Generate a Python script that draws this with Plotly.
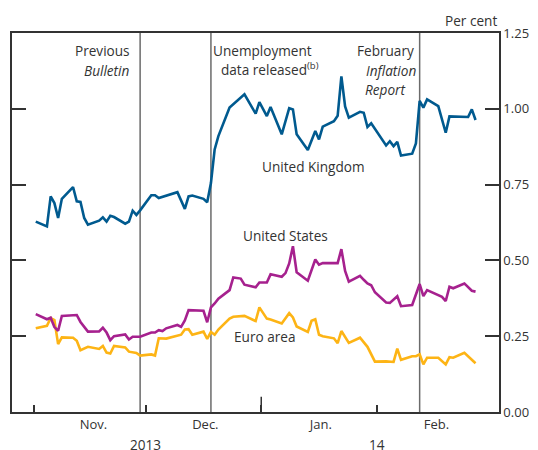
import pandas as pd
import plotly.graph_objects as go

# ---------------- data ----------------
uk_dates = ["2013-11-01","2013-11-04","2013-11-05","2013-11-06","2013-11-07","2013-11-08",
            "2013-11-11","2013-11-12","2013-11-13","2013-11-14","2013-11-15","2013-11-18",
            "2013-11-19","2013-11-20","2013-11-21","2013-11-22","2013-11-25","2013-11-26",
            "2013-11-27","2013-11-28","2013-11-29","2013-12-02","2013-12-03","2013-12-04",
            "2013-12-09","2013-12-11","2013-12-12","2013-12-13","2013-12-16","2013-12-17",
            "2013-12-18","2013-12-19","2013-12-20","2013-12-23","2013-12-27","2013-12-30",
            "2013-12-31","2014-01-02","2014-01-03","2014-01-06","2014-01-08","2014-01-09",
            "2014-01-10","2014-01-13","2014-01-15","2014-01-16","2014-01-17","2014-01-20",
            "2014-01-21","2014-01-22","2014-01-23","2014-01-24","2014-01-27","2014-01-28",
            "2014-01-29","2014-01-30","2014-02-03","2014-02-04","2014-02-05","2014-02-06",
            "2014-02-07","2014-02-10","2014-02-11","2014-02-12","2014-02-13","2014-02-14",
            "2014-02-17","2014-02-19","2014-02-20","2014-02-25","2014-02-26","2014-02-27"]
uk_values = [0.628,0.612,0.711,0.689,0.640,0.703,
             0.742,0.695,0.693,0.640,0.618,0.631,
             0.642,0.628,0.647,0.643,0.621,0.628,
             0.664,0.650,0.665,0.715,0.715,0.706,
             0.725,0.670,0.711,0.714,0.703,0.692,
             0.755,0.866,0.910,1.004,1.048,0.984,
             1.022,0.976,1.006,0.916,1.002,0.998,
             0.916,0.864,0.927,0.899,0.941,0.959,
             0.977,1.107,1.008,0.971,0.990,0.987,
             0.940,0.952,0.879,0.893,0.877,0.891,
             0.846,0.852,0.886,1.026,1.004,1.031,
             1.009,0.921,0.975,0.973,0.998,0.963]

us_dates = ["2013-11-01","2013-11-04","2013-11-05","2013-11-06","2013-11-07","2013-11-08",
            "2013-11-12","2013-11-13","2013-11-15","2013-11-18","2013-11-19","2013-11-20",
            "2013-11-21","2013-11-22","2013-11-25","2013-11-26","2013-11-27","2013-11-29",
            "2013-12-02","2013-12-03","2013-12-04","2013-12-05","2013-12-06","2013-12-09",
            "2013-12-10","2013-12-11","2013-12-12","2013-12-16","2013-12-17","2013-12-18",
            "2013-12-19","2013-12-20","2013-12-23","2013-12-24","2013-12-26","2013-12-27",
            "2013-12-30","2013-12-31","2014-01-02","2014-01-03","2014-01-06","2014-01-07",
            "2014-01-08","2014-01-09","2014-01-10","2014-01-13","2014-01-15","2014-01-16",
            "2014-01-17","2014-01-21","2014-01-22","2014-01-23","2014-01-24","2014-01-27",
            "2014-01-28","2014-01-29","2014-01-30","2014-01-31","2014-02-03","2014-02-04",
            "2014-02-06","2014-02-07","2014-02-10","2014-02-12","2014-02-13","2014-02-14",
            "2014-02-18","2014-02-19","2014-02-20","2014-02-21","2014-02-24","2014-02-26",
            "2014-02-27"]
us_values = [0.323,0.306,0.311,0.280,0.268,0.317,
             0.320,0.297,0.265,0.266,0.278,0.262,
             0.237,0.250,0.256,0.239,0.248,0.248,
             0.262,0.262,0.270,0.267,0.276,0.287,
             0.281,0.302,0.336,0.334,0.296,0.345,
             0.358,0.374,0.402,0.444,0.440,0.420,
             0.411,0.427,0.427,0.454,0.446,0.458,
             0.490,0.547,0.461,0.433,0.503,0.486,
             0.491,0.491,0.537,0.465,0.430,0.449,
             0.436,0.424,0.418,0.395,0.361,0.360,
             0.382,0.349,0.353,0.422,0.382,0.402,
             0.380,0.366,0.413,0.408,0.424,0.400,
             0.397]

ea_dates = ["2013-11-01","2013-11-04","2013-11-05","2013-11-06","2013-11-07","2013-11-08",
            "2013-11-11","2013-11-12","2013-11-13","2013-11-15","2013-11-18","2013-11-19",
            "2013-11-20","2013-11-21","2013-11-22","2013-11-25","2013-11-26","2013-11-28",
            "2013-11-29","2013-12-02","2013-12-03","2013-12-04","2013-12-06","2013-12-10",
            "2013-12-11","2013-12-12","2013-12-13","2013-12-16","2013-12-17","2013-12-18",
            "2013-12-19","2013-12-20","2013-12-23","2013-12-24","2013-12-27","2013-12-30",
            "2013-12-31","2014-01-02","2014-01-03","2014-01-06","2014-01-08","2014-01-09",
            "2014-01-10","2014-01-13","2014-01-14","2014-01-15","2014-01-16","2014-01-17",
            "2014-01-20","2014-01-21","2014-01-22","2014-01-24","2014-01-27","2014-01-29",
            "2014-01-31","2014-02-03","2014-02-05","2014-02-06","2014-02-07","2014-02-10",
            "2014-02-11","2014-02-12","2014-02-13","2014-02-14","2014-02-17","2014-02-19",
            "2014-02-20","2014-02-21","2014-02-24","2014-02-25","2014-02-27"]
ea_values = [0.276,0.284,0.310,0.303,0.224,0.246,
             0.245,0.235,0.204,0.215,0.208,0.218,
             0.196,0.193,0.218,0.213,0.199,0.195,
             0.186,0.190,0.186,0.243,0.242,0.255,
             0.272,0.273,0.255,0.265,0.241,0.264,
             0.255,0.272,0.308,0.314,0.317,0.300,
             0.345,0.308,0.305,0.292,0.326,0.312,
             0.282,0.264,0.301,0.306,0.255,0.250,
             0.243,0.227,0.267,0.228,0.245,0.215,
             0.166,0.167,0.165,0.209,0.172,0.184,
             0.184,0.190,0.157,0.179,0.179,0.157,
             0.181,0.179,0.195,0.183,0.161]

event_dates = ["2013-11-29", "2013-12-18", "2014-02-12"]
month_starts = ["2013-11-01", "2013-12-01", "2014-01-01", "2014-02-01"]
month_label_dates = ["2013-11-17", "2013-12-17", "2014-01-17", "2014-02-17"]
month_labels = ["Nov.", "Dec.", "Jan.", "Feb."]
year_start = "2014-01-01"
y_ticks = [0.0, 0.25, 0.5, 0.75, 1.0, 1.25]

# ---------------- styling ----------------
FONT = "Open Sans"
TXT = "#333333"
UK_C = "#005A8F"
US_C = "#A6218E"
EA_C = "#FDB415"
HALF_DAY = pd.Timedelta(hours=12)

def at_noon(ds):
    return pd.to_datetime(ds) + HALF_DAY

fig = go.Figure()
for d, v, c in [(ea_dates, ea_values, EA_C), (us_dates, us_values, US_C), (uk_dates, uk_values, UK_C)]:
    fig.add_trace(go.Scatter(x=at_noon(d), y=v, mode="lines",
                             line=dict(color=c, width=2.6), showlegend=False,
                             hoverinfo="skip"))

for ed in event_dates:
    fig.add_shape(type="line", xref="x", yref="paper",
                  x0=at_noon([ed])[0], x1=at_noon([ed])[0], y0=0, y1=1,
                  line=dict(color="#6b6b6b", width=1.5), layer="below")

# longer tick at the year boundary
fig.add_shape(type="line", xref="x", yref="paper",
              x0=pd.Timestamp(year_start), x1=pd.Timestamp(year_start), y0=0, y1=0.04,
              line=dict(color="#333333", width=1.5))

# the page body has an 8px default margin, so the figure is sized 8px smaller
fig.update_layout(
    width=530, height=442,
    margin=dict(l=2, r=39, t=25, b=38),
    paper_bgcolor="white", plot_bgcolor="white",
    font=dict(family=FONT, size=13, color=TXT),
    xaxis=dict(type="date",
               range=[pd.Timestamp("2013-10-26 03:00"), pd.Timestamp("2014-03-05 19:00")],
               tickmode="array", tickvals=pd.to_datetime(month_label_dates),
               ticktext=month_labels, ticks="", ticklen=0,
               showgrid=False, zeroline=False,
               showline=True, linecolor="#333333", linewidth=1.5, mirror=True,
               ticklabelstandoff=0,
               minor=dict(tickmode="array", tickvals=pd.to_datetime(month_starts),
                          ticks="inside", ticklen=7, tickwidth=1.5, tickcolor="#333333",
                          showgrid=False),
               tickfont=dict(family=FONT, size=13, color=TXT)),
    yaxis=dict(range=[0, 1.25], side="right", tickmode="array", tickvals=y_ticks,
               tickformat=".2f", ticks="inside", ticklen=14, tickwidth=1.5,
               tickcolor="#333333", showgrid=False, zeroline=False,
               showline=True, linecolor="#333333", linewidth=1.5, mirror="ticks",
               ticklabelstandoff=0,
               tickfont=dict(family=FONT, size=13, color=TXT)),
)

AF = 13.6
ann = [
    dict(text="Previous", x=0.2454, y=0.955, xanchor="right"),
    dict(text="<i>Bulletin</i>", x=0.2474, y=0.902, xanchor="right"),
    dict(text="Unemployment", x=0.5153, y=0.955, xanchor="center"),
    dict(text="data released<sup>(b)</sup>", x=0.5307, y=0.905, xanchor="center"),
    dict(text="February", x=0.7669, y=0.955, xanchor="center"),
    dict(text="<i>Inflation</i>", x=0.779, y=0.902, xanchor="center"),
    dict(text="<i>Report</i>", x=0.765, y=0.852, xanchor="center"),
    dict(text="United Kingdom", x=0.6196, y=0.647, xanchor="center"),
    dict(text="United States", x=0.5617, y=0.467, xanchor="center"),
    dict(text="Euro area", x=0.5184, y=0.2005, xanchor="center"),
    dict(text="Per cent", x=1.0, y=1.034, xanchor="right"),
    dict(text="2013", x=0.274, y=-0.087, xanchor="center"),
    dict(text="14", x=0.7499, y=-0.087, xanchor="center"),
]
for a in ann:
    fig.add_annotation(xref="paper", yref="paper", yanchor="middle", showarrow=False,
                       font=dict(family=FONT, size=AF, color=TXT), **a)

fig.write_html("out.html")
